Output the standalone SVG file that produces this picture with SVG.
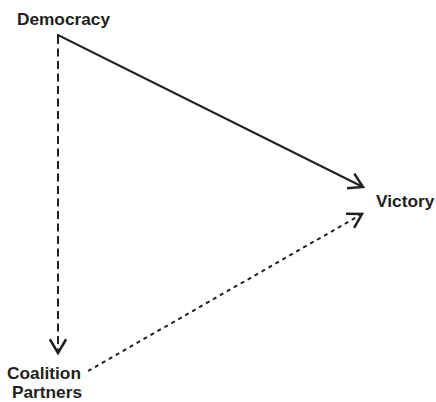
<svg xmlns="http://www.w3.org/2000/svg" width="436" height="402" viewBox="0 0 436 402">
<defs>
<style>
.lbl{font-family:"Liberation Sans",Arial,sans-serif;font-weight:bold;font-size:17.3px;fill:#231f20}
.edge{fill:none;stroke:#231f20;stroke-width:2}
</style>
<marker id="arr" markerUnits="userSpaceOnUse" markerWidth="20" markerHeight="20" refX="0" refY="0" viewBox="-12 -8 14 16" orient="auto">
<path d="M-11,-6.5 L0,0 L-11,6.5" fill="none" stroke="#231f20" stroke-width="2"/>
</marker>
</defs>
<rect width="436" height="402" fill="#fff"/>
<g id="connectors">
<path class="edge" d="M57,35 L58,35 L363,187" marker-end="url(#arr)"/>
<path class="edge" d="M58,36 L58,353" stroke-dasharray="8,4.5" marker-end="url(#arr)"/>
<path class="edge" d="M88,371 L362,214" stroke-dasharray="4,4" marker-end="url(#arr)"/>
</g>
<g id="democracy"><text class="lbl" x="63.5" y="25" text-anchor="middle">Democracy</text></g>
<g id="victory"><text class="lbl" x="376" y="207">Victory</text></g>
<g id="coalition"><text class="lbl" x="44" y="379" text-anchor="middle">Coalition</text><text class="lbl" x="47" y="398" text-anchor="middle">Partners</text></g>
</svg>
